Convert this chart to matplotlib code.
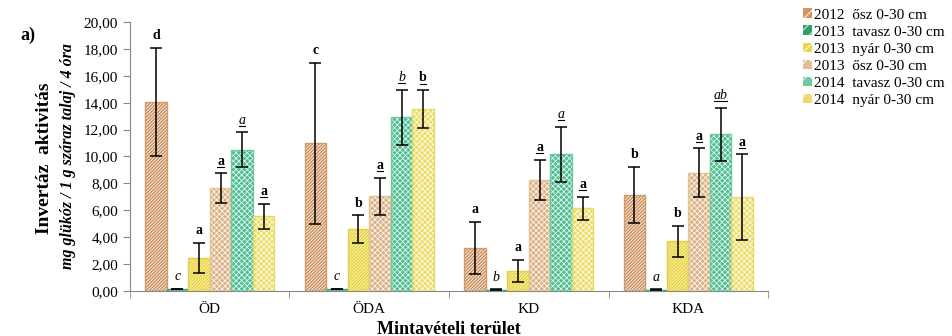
import numpy as np
import matplotlib.pyplot as plt
from matplotlib.lines import Line2D
from matplotlib.patches import Patch
from matplotlib.transforms import offset_copy

plt.rcParams['font.family'] = ['Liberation Serif', 'DejaVu Serif']

# Data
sites = ["ÖD", "ÖDA", "KD", "KDA"]
series = ["2012  ősz 0-30 cm", "2013  tavasz 0-30 cm", "2013  nyár 0-30 cm",
          "2013  ősz 0-30 cm", "2014  tavasz 0-30 cm", "2014  nyár 0-30 cm"]

s2012_osz = [14.07, 10.97, 3.20, 7.12]
s2013_tav = [0.15, 0.15, 0.10, 0.10]
s2013_nyar = [2.45, 4.60, 1.50, 3.68]
s2013_osz = [7.65, 7.05, 8.27, 8.80]
s2014_tav = [10.50, 12.90, 10.15, 11.66]
s2014_nyar = [5.55, 13.55, 6.15, 6.98]

e2012_osz = [4.00, 5.98, 1.96, 2.10]
e2013_tav = [0.03, 0.03, 0.02, 0.02]
e2013_nyar = [1.15, 1.02, 0.82, 1.14]
e2013_osz = [1.10, 1.38, 1.50, 1.80]
e2014_tav = [1.30, 2.08, 2.06, 1.96]
e2014_nyar = [0.95, 1.40, 0.85, 3.17]

# significance letters per series (rows) and site (columns)
letters = [["d", "c", "a", "b"],
           ["c", "c", "b", "a"],
           ["a", "b", "a", "b"],
           ["a", "a", "a", "a"],
           ["a", "b", "a", "ab"],
           ["a", "b", "a", "a"]]
letter_italic = [False, True, False, False, True, False]
letter_underline = [False, False, False, True, True, True]

values = [s2012_osz, s2013_tav, s2013_nyar, s2013_osz, s2014_tav, s2014_nyar]
errors = [e2012_osz, e2013_tav, e2013_nyar, e2013_osz, e2014_tav, e2014_nyar]

# style: (face, hatch colour, hatch, hatch width, edge, legend colour)
styles = [("#FBF1E8", "#C98B58", "/" * 10, 1.0, "#D49A6A", "#D39767"),
          ("#E8F6EE", "#2E9E6B", "/" * 10, 1.0, "#3BAA77", "#2E9E6B"),
          ("#FBF3B8", "#E6D23A", "/" * 10, 1.0, "#E3CF45", "#E9D54A"),
          ("#DCB286", "#FFFFFF", "x" * 6, 0.5, "#E2C48E", "#E3C08E"),
          ("#4DBF91", "#FFFFFF", "x" * 6, 0.5, "#6CC9A0", "#6CC9A0"),
          ("#ECDD66", "#FFFFFF", "x" * 6, 0.5, "#E9D96A", "#EBDB6E")]

fig = plt.figure(figsize=(9.53, 3.36), dpi=100)
ax = fig.add_axes([0.1364, 0.134, 0.6695, 0.8005])

x = np.arange(len(sites))
w = 0.135
for i, (vals, errs) in enumerate(zip(values, errors)):
    face, hc, hatch, hlw, edge, lc = styles[i]
    pos = x + (i - 2.5) * w
    with plt.rc_context({"hatch.linewidth": hlw}):
        ax.bar(pos, vals, w, color=face, edgecolor=hc, hatch=hatch, linewidth=0, zorder=2)
    ax.bar(pos, vals, w, fill=False, edgecolor=edge, linewidth=1.0, zorder=3)
    ax.errorbar(pos, vals, yerr=errs, fmt="none", ecolor="black", elinewidth=1.1,
                capsize=4, capthick=1.1, zorder=4)
    for j in range(len(sites)):
        top = vals[j] + errs[j]
        tr = offset_copy(ax.transData, fig=fig, x=0, y=6.3, units="points")
        ax.text(pos[j], top, letters[i][j], transform=tr, ha="center", va="baseline",
                fontsize=10, fontweight="normal" if letter_italic[i] else "bold",
                style="italic" if letter_italic[i] else "normal", zorder=5)
        if letter_underline[i]:
            tr2 = offset_copy(ax.transData, fig=fig, x=0, y=4.6, units="points")
            half = 0.02 * len(letters[i][j])
            ax.add_line(Line2D([pos[j] - half, pos[j] + half], [top, top],
                               transform=tr2, color="black", linewidth=0.8, zorder=5))

ax.set_xlim(-0.5, 3.5)
ax.set_ylim(0, 20)
ax.set_yticks(np.arange(0, 21, 2))
ax.set_yticklabels([f"{v:.2f}".replace(".", ",") for v in np.arange(0, 21, 2)], fontsize=11)
ax.set_xticks(x)
ax.set_xticklabels(sites, fontsize=11)
ax.set_xticks(np.arange(-0.5, 4, 1), minor=True)
ax.tick_params(axis="x", which="major", length=0, pad=9)
ax.tick_params(axis="x", which="minor", length=5, color="#888888")
ax.tick_params(axis="y", length=5, color="#888888")
for s in ["top", "right"]:
    ax.spines[s].set_visible(False)
ax.spines["left"].set_color("#888888")
ax.spines["bottom"].set_color("#888888")

ax.set_xlabel("Mintavételi terület", fontsize=13, fontweight="bold", labelpad=3)
fig.text(0.047, 0.53, "Invertáz  aktivitás", rotation=90, fontsize=14, fontweight="bold",
         ha="center", va="center")
fig.text(0.071, 0.535, "mg glükóz / 1 g száraz talaj / 4 óra", rotation=90, fontsize=11.5,
         fontweight="bold", style="italic", ha="center", va="center")
fig.text(0.021, 0.895, "a)", fontsize=13, fontweight="bold", ha="left", va="center")

handles = []
for i in range(len(series)):
    face, hc, hatch, hlw, edge, lc = styles[i]
    handles.append(Patch(facecolor=lc, edgecolor="white", hatch="///" if i < 3 else "xx",
                         linewidth=0))
with plt.rc_context({"hatch.linewidth": 0.6}):
    fig.legend(handles, series, loc="upper left", bbox_to_anchor=(0.8426, 0.975),
               frameon=False, fontsize=11, handlelength=0.6, handleheight=0.6,
               handletextpad=0.1, labelspacing=0.25, borderpad=0, borderaxespad=0)

fig.savefig("out.png", dpi=100)
